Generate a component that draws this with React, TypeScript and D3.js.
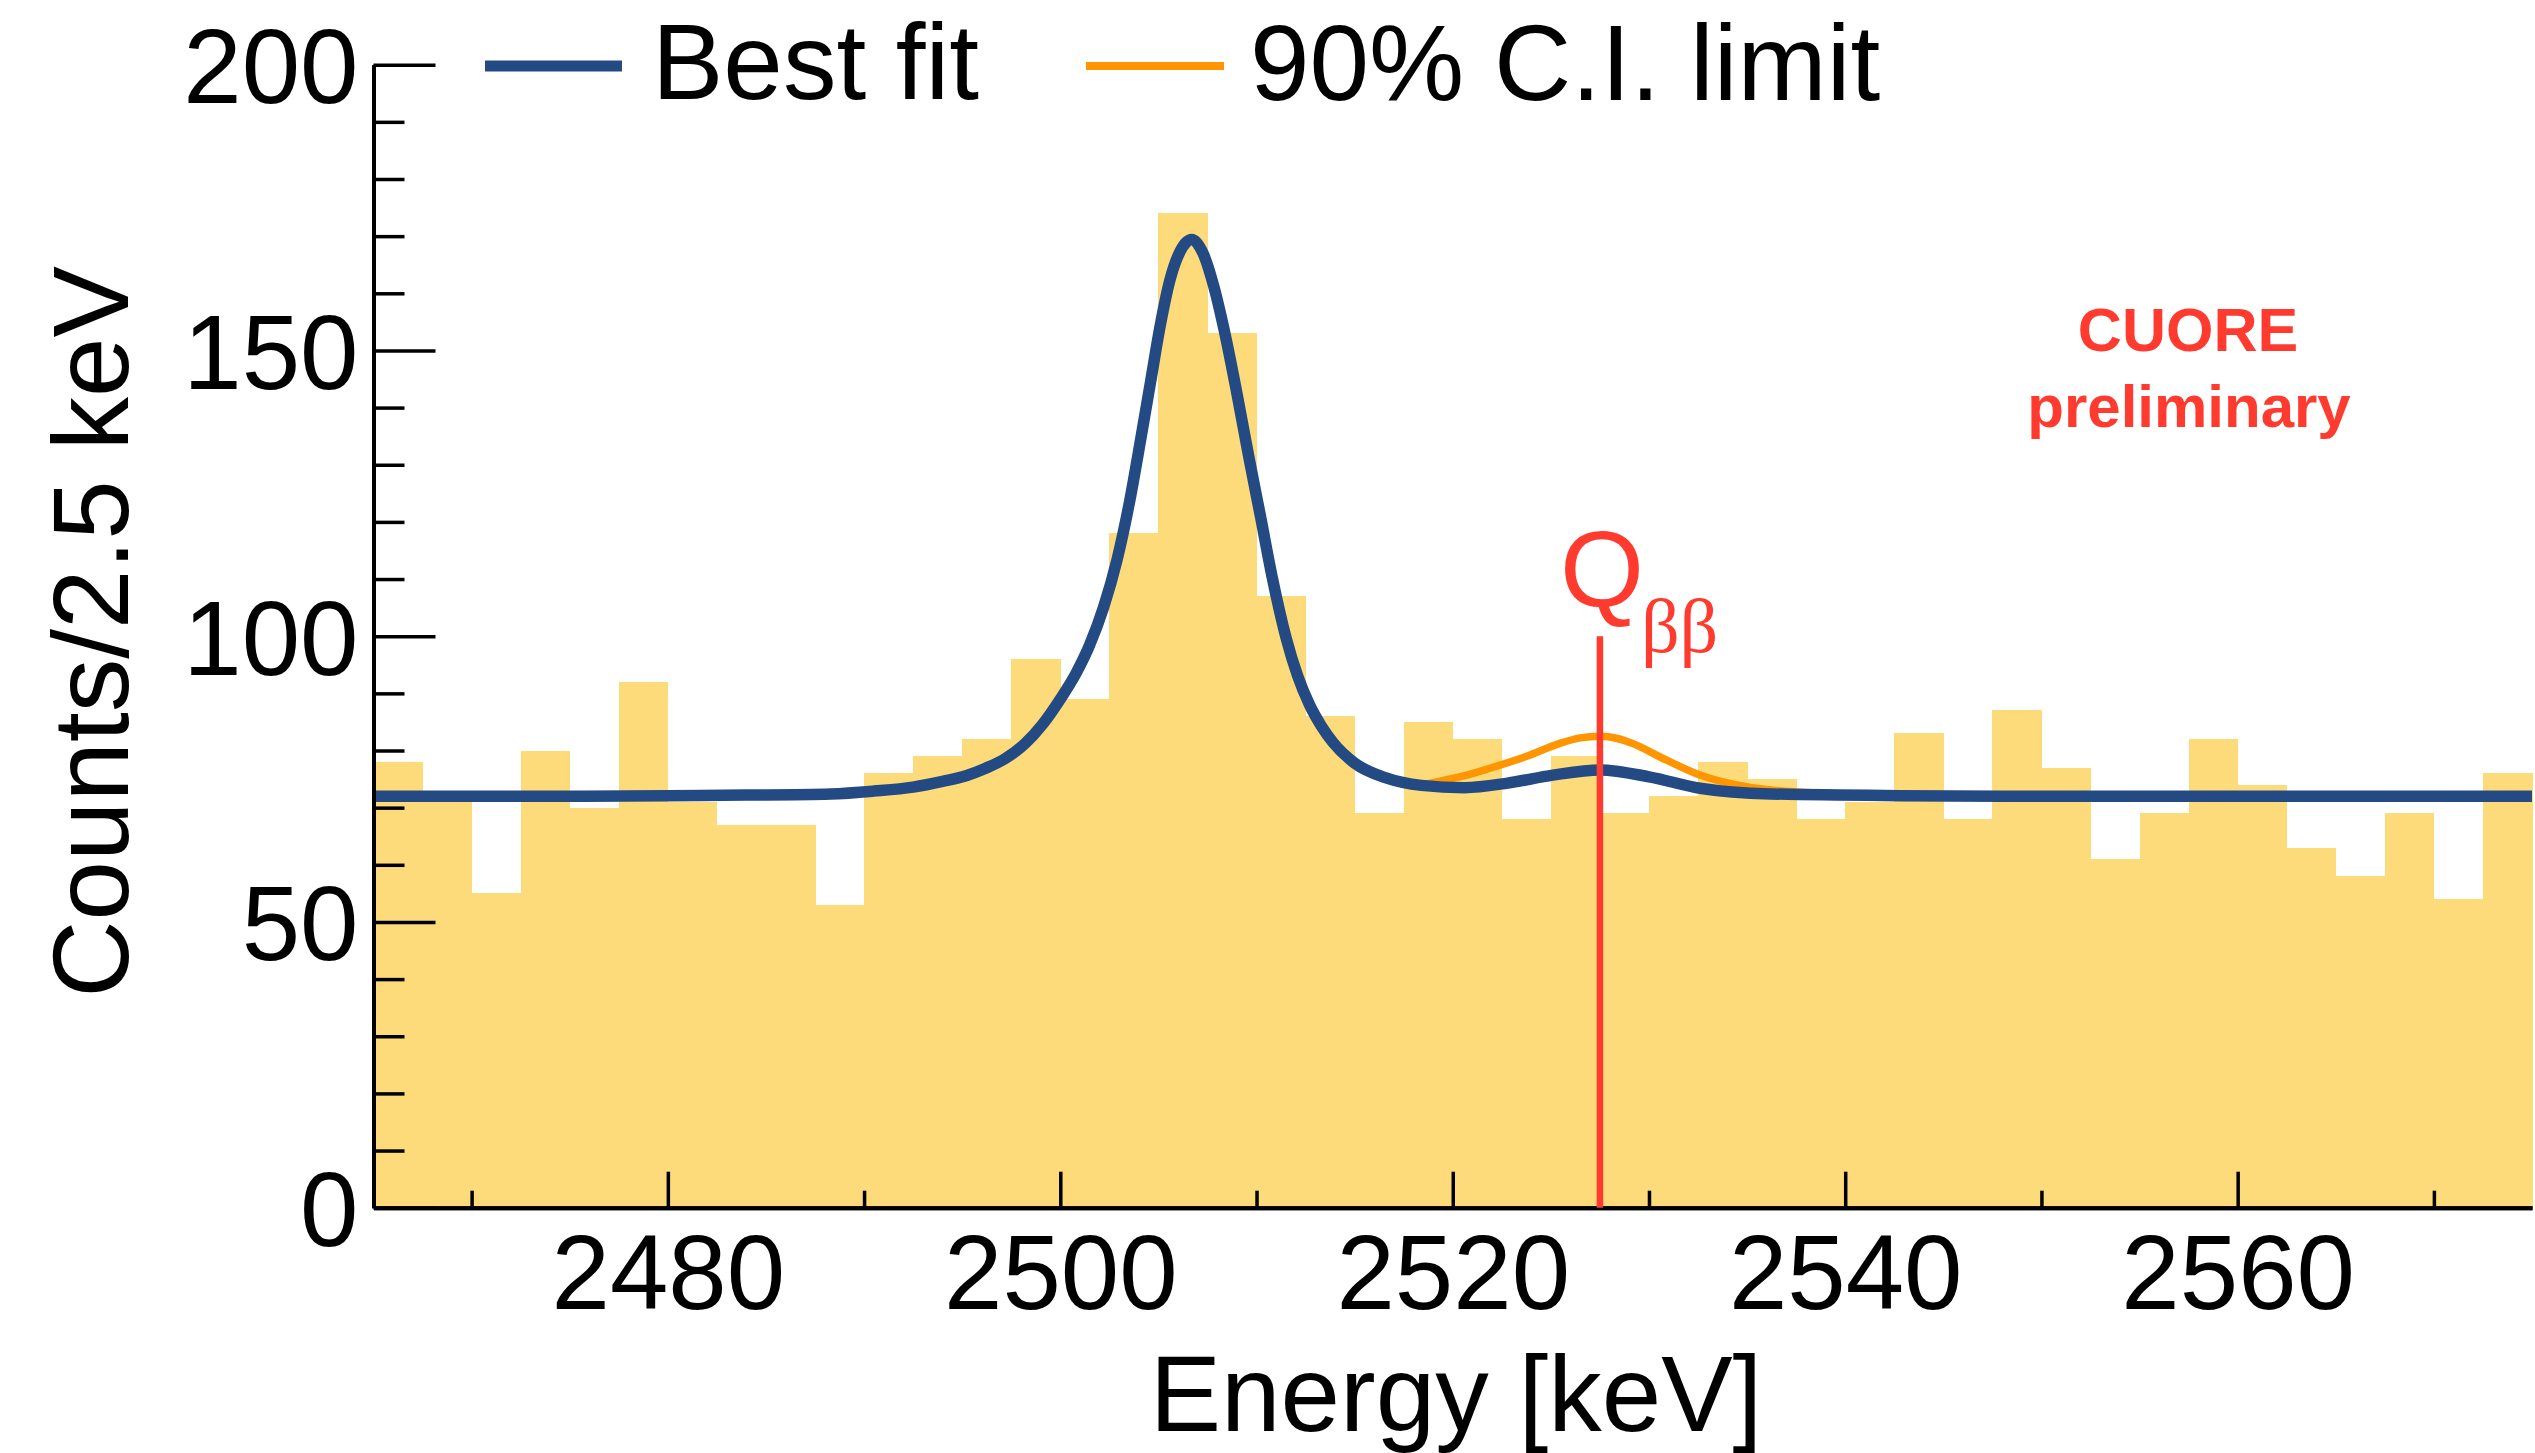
import { useEffect, useRef } from "react";
import * as d3 from "d3";

// ----- Data ----------------------------------------------------------------
const binLow = [
  2465, 2467.5, 2470, 2472.5, 2475, 2477.5, 2480, 2482.5, 2485, 2487.5,
  2490, 2492.5, 2495, 2497.5, 2500, 2502.5, 2505, 2507.5, 2510, 2512.5,
  2515, 2517.5, 2520, 2522.5, 2525, 2527.5, 2530, 2532.5, 2535, 2537.5,
  2540, 2542.5, 2545, 2547.5, 2550, 2552.5, 2555, 2557.5, 2560, 2562.5,
  2565, 2567.5, 2570, 2572.5,
];
const binWidth = 2.5;
const counts = [
  78, 72, 55, 80, 70, 92, 71, 67, 67, 53,
  76, 79, 82, 96, 89, 118, 174, 153, 107, 86,
  69, 85, 82, 68, 79, 69, 72, 78, 75, 68,
  71, 83, 68, 87, 77, 61, 69, 82, 74, 63,
  58, 69, 54, 76,
];

// best fit curve
const fitEnergy = [
  2465, 2470, 2475, 2480, 2484, 2488.3, 2490.5, 2492.5, 2494, 2495.2,
  2496.2, 2497.2, 2498.2, 2499.1, 2500, 2500.8, 2501.5, 2502.2, 2502.9, 2503.5,
  2504.1, 2504.6, 2505.1, 2505.6, 2506.1, 2506.7, 2507.3, 2507.8, 2508.4, 2509,
  2509.6, 2510.2, 2510.8, 2511.5, 2512.1, 2512.7, 2513.3, 2513.9, 2515, 2516.6,
  2518.4, 2520.6, 2522.8, 2525.1, 2527.5, 2530, 2532.6, 2536.2, 2542.8, 2550,
  2560, 2575,
];
const fitCounts = [
  72.0, 72.0, 72.0, 72.1, 72.2, 72.4, 72.9, 73.6, 74.6, 75.6,
  76.9, 78.6, 81.2, 84.6, 89.0, 93.5, 98.5, 105, 113.5, 123,
  134.5, 144.5, 154.5, 162.5, 167.3, 169.4, 166.8, 161.5, 152.8, 142.5,
  131.5, 121, 110.3, 99.8, 93, 88.0, 84.3, 81.4, 77.8, 75.2,
  73.9, 73.5, 74.3, 75.7, 76.6, 75.4, 73.4, 72.4, 72.1, 72.0,
  72.0, 72.0,
];

// 90% C.I. limit curve
const limitEnergy = [
  2465, 2470, 2475, 2480, 2484, 2488.3, 2490.5, 2492.5, 2494, 2495.2,
  2496.2, 2497.2, 2498.2, 2499.1, 2500, 2500.8, 2501.5, 2502.2, 2502.9, 2503.5,
  2504.1, 2504.6, 2505.1, 2505.6, 2506.1, 2506.7, 2507.3, 2507.8, 2508.4, 2509,
  2509.6, 2510.2, 2510.8, 2511.5, 2512.1, 2512.7, 2513.3, 2513.9, 2515, 2516.6,
  2518.4, 2519.3, 2520.6, 2521.9, 2523.7, 2525.5, 2526.5, 2527.5, 2528.4, 2529.1,
  2530.9, 2532.6, 2534.4, 2536.2, 2540, 2545, 2550, 2560, 2575,
];
const limitCounts = [
  72.0, 72.0, 72.0, 72.1, 72.2, 72.4, 72.9, 73.6, 74.6, 75.6,
  76.9, 78.6, 81.2, 84.6, 89.0, 93.5, 98.5, 105, 113.5, 123,
  134.5, 144.5, 154.5, 162.5, 167.3, 169.4, 166.8, 161.5, 152.8, 142.5,
  131.5, 121, 110.3, 99.8, 93, 88.0, 84.3, 81.4, 77.8, 75.2,
  74.0, 74.6, 75.6, 76.9, 78.9, 81.3, 82.2, 82.5, 82.1, 81.3,
  78.3, 75.7, 74.0, 73.1, 72.4, 72.1, 72.0, 72.0, 72.0,
];

const qbb = 2527.5;
const qbbLineTop = 100;

const xMajorTicks = [2480, 2500, 2520, 2540, 2560];
const xMinorTicks = [2470, 2490, 2510, 2530, 2550, 2570];
const yMajorTicks = [0, 50, 100, 150, 200];
const yMinorTicks = [
  10, 20, 30, 40, 60, 70, 80, 90, 110, 120, 130, 140, 160, 170, 180, 190,
];

const W = 2535;
const H = 1453;
const FONT = "'Liberation Sans', Arial, Helvetica, sans-serif";
const RED = "#ff3b2f";

const CuoreSpectrum = () => {
  const svgRef = useRef<SVGSVGElement | null>(null);

  useEffect(() => {
    const svg = d3.select(svgRef.current);
    svg.selectAll("*").remove();

    const margin = { top: 64.7, right: 3, bottom: 245.3, left: 373.5 };
    const x = d3.scaleLinear().domain([2465, 2575]).range([margin.left, W - margin.right]);
    const y = d3.scaleLinear().domain([0, 200]).range([H - margin.bottom, margin.top]);

    // ----- Histogram -------------------------------------------------------
    svg
      .append("g")
      .selectAll("rect")
      .data(counts)
      .join("rect")
      .attr("x", (_, i) => x(binLow[i]))
      .attr("width", (_, i) => x(binLow[i] + binWidth) - x(binLow[i]) + 0.5)
      .attr("y", (d) => y(d))
      .attr("height", (d) => y(0) - y(d))
      .attr("fill", "#fddb7a")
      .attr("shape-rendering", "crispEdges");

    // ----- Curves ----------------------------------------------------------
    const line = d3
      .line<[number, number]>()
      .x((d) => x(d[0]))
      .y((d) => y(d[1]))
      .curve(d3.curveMonotoneX);

    svg
      .append("path")
      .datum(limitEnergy.map((e, i) => [e, limitCounts[i]] as [number, number]))
      .attr("fill", "none")
      .attr("stroke", "#ff9500")
      .attr("stroke-width", 7.5)
      .attr("d", line);

    svg
      .append("path")
      .datum(fitEnergy.map((e, i) => [e, fitCounts[i]] as [number, number]))
      .attr("fill", "none")
      .attr("stroke", "#244a84")
      .attr("stroke-width", 11.5)
      .attr("stroke-linejoin", "round")
      .attr("d", line);

    // ----- Axes ------------------------------------------------------------
    const styleAxis = (g: d3.Selection<SVGGElement, unknown, null, undefined>) => {
      g.select(".domain").attr("stroke-width", 4);
      g.selectAll(".tick line").attr("stroke-width", 3.5);
    };

    svg
      .append("g")
      .attr("transform", `translate(0,${y(0)})`)
      .call(d3.axisBottom(x).tickValues(xMinorTicks).tickSize(-17).tickSizeOuter(0).tickFormat(() => ""))
      .call(styleAxis);

    const xAxis = svg
      .append("g")
      .attr("transform", `translate(0,${y(0)})`)
      .call(d3.axisBottom(x).tickValues(xMajorTicks).tickSize(-36).tickSizeOuter(0).tickFormat(d3.format("d")))
      .call(styleAxis);
    xAxis
      .selectAll(".tick text")
      .attr("y", 101)
      .attr("dy", null)
      .attr("font-size", 105)
      .attr("font-family", FONT)
      .attr("fill", "#000");

    svg
      .append("g")
      .attr("transform", `translate(${x(2465)},0)`)
      .call(d3.axisLeft(y).tickValues(yMinorTicks).tickSize(-31).tickSizeOuter(0).tickFormat(() => ""))
      .call(styleAxis);

    const yAxis = svg
      .append("g")
      .attr("transform", `translate(${x(2465)},0)`)
      .call(d3.axisLeft(y).tickValues(yMajorTicks).tickSize(-62).tickSizeOuter(0).tickFormat(d3.format("d")))
      .call(styleAxis);
    yAxis
      .selectAll(".tick text")
      .attr("x", -15)
      .attr("dy", "0.36em")
      .attr("font-size", 105)
      .attr("font-family", FONT)
      .attr("fill", "#000");

    // axis titles
    svg
      .append("text")
      .attr("x", 1456)
      .attr("y", 1431)
      .attr("text-anchor", "middle")
      .attr("font-family", FONT)
      .attr("font-size", 107)
      .text("Energy [keV]");

    svg
      .append("text")
      .attr("transform", `translate(128,${632}) rotate(-90)`)
      .attr("text-anchor", "middle")
      .attr("font-family", FONT)
      .attr("font-size", 107)
      .text("Counts/2.5 keV");

    // ----- Q_bb marker -----------------------------------------------------
    svg
      .append("line")
      .attr("x1", x(qbb))
      .attr("x2", x(qbb))
      .attr("y1", y(qbbLineTop))
      .attr("y2", y(0))
      .attr("stroke", RED)
      .attr("stroke-width", 6.5);

    svg
      .append("text")
      .attr("x", x(qbb) - 40)
      .attr("y", 607)
      .attr("font-family", FONT)
      .attr("font-size", 108)
      .attr("fill", RED)
      .text("Q");
    svg
      .append("text")
      .attr("x", x(qbb) + 41)
      .attr("y", 652)
      .attr("font-family", "'Liberation Serif', 'Times New Roman', serif")
      .attr("font-size", 76)
      .attr("fill", RED)
      .text("ββ");

    // ----- CUORE preliminary -----------------------------------------------
    svg
      .append("text")
      .attr("x", 2188)
      .attr("y", 351)
      .attr("text-anchor", "middle")
      .attr("font-family", FONT)
      .attr("font-size", 61)
      .attr("font-weight", "bold")
      .attr("fill", RED)
      .text("CUORE");
    svg
      .append("text")
      .attr("x", 2189)
      .attr("y", 427)
      .attr("text-anchor", "middle")
      .attr("font-family", FONT)
      .attr("font-size", 60)
      .attr("font-weight", "bold")
      .attr("fill", RED)
      .text("preliminary");

    // ----- Legend ----------------------------------------------------------
    const legend = svg.append("g").attr("font-family", FONT).attr("font-size", 107);
    legend
      .append("line")
      .attr("x1", 485)
      .attr("x2", 622)
      .attr("y1", 66)
      .attr("y2", 66)
      .attr("stroke", "#244a84")
      .attr("stroke-width", 11);
    legend.append("text").attr("x", 652).attr("y", 99).text("Best fit");
    legend
      .append("line")
      .attr("x1", 1086)
      .attr("x2", 1224)
      .attr("y1", 66)
      .attr("y2", 66)
      .attr("stroke", "#ff9500")
      .attr("stroke-width", 8);
    legend.append("text").attr("x", 1250).attr("y", 100).text("90% C.I. limit");
  }, []);

  return (
    <svg
      ref={svgRef}
      width={W}
      height={H}
      viewBox={`0 0 ${W} ${H}`}
      style={{ position: "absolute", left: 0, top: 0, background: "#fff" }}
    />
  );
};

export default function App() {
  return <CuoreSpectrum />;
}
